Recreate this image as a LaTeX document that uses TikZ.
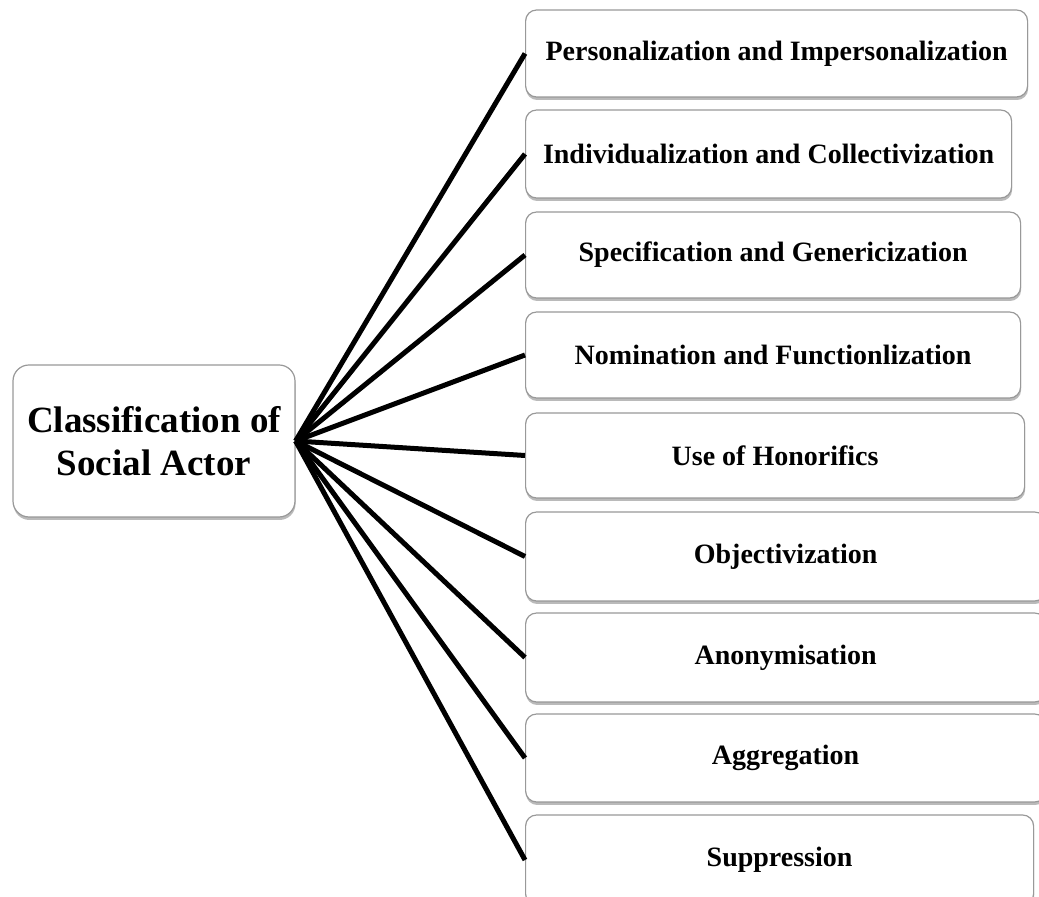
\documentclass[tikz,border=0pt]{standalone}
\usepackage{fontspec}
\setmainfont{Liberation Serif}
\usepackage{tikz}
\usetikzlibrary{shadows,positioning}

\begin{document}
\begin{tikzpicture}[x=1pt,y=1pt,
    catbox/.style={draw=black!40,line width=1.2pt,fill=white,rounded corners=11pt,
      drop shadow={shadow xshift=0.5pt,shadow yshift=-3pt,fill=black!45,opacity=0.6},
      anchor=west,align=center,inner sep=0pt,
      font=\fontsize{28}{32}\selectfont\bfseries},
    mainbox/.style={catbox,anchor=center,minimum width=282pt,minimum height=152pt,
      rounded corners=16pt,font=\fontsize{37}{43}\selectfont\bfseries},
    link/.style={line width=5pt,black}]
    % page of 1039 x 897 px (1px = 1pt)
    \clip (0,0) rectangle (1039,897);
    % root box
    \node[mainbox] (root) at (154,456) {Classification of\\Social Actor};
    % the nine classes, left edge at x = 525
    \node[catbox,minimum width=502pt,minimum height=87pt] (c1) at (525,843.5) {Personalization and Impersonalization};
    \node[catbox,minimum width=486pt,minimum height=88pt] (c2) at (525,743) {Individualization and Collectivization};
    \node[catbox,minimum width=495pt,minimum height=86pt] (c3) at (525,642) {Specification and Genericization};
    \node[catbox,minimum width=495pt,minimum height=86pt] (c4) at (525,542) {Nomination and Functionlization};
    \node[catbox,minimum width=499pt,minimum height=85pt] (c5) at (525,441.5) {Use of Honorifics};
    \node[catbox,minimum width=520pt,minimum height=89pt] (c6) at (525,340.5) {Objectivization};
    \node[catbox,minimum width=520pt,minimum height=89pt] (c7) at (525,239.5) {Anonymisation};
    \node[catbox,minimum width=520pt,minimum height=88pt] (c8) at (525,139) {Aggregation};
    \node[catbox,minimum width=508pt,minimum height=90pt] (c9) at (525,37) {Suppression};
    % fan of links from the root
    \foreach \i in {1,...,9}
      \draw[link] (root.east) -- (c\i.west);
\end{tikzpicture}
\end{document}
